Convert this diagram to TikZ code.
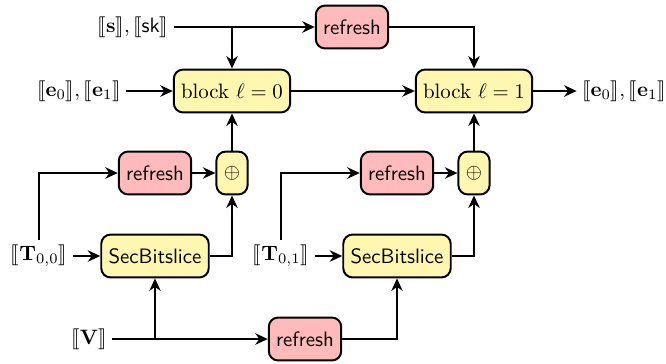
\documentclass[tikz,border=0pt]{standalone}
\usepackage{stmaryrd}
\usetikzlibrary{arrows.meta}
\definecolor{boxyellow}{RGB}{255,246,175}
\definecolor{boxpink}{RGB}{255,187,187}
\begin{document}
\begin{tikzpicture}[x=0.48pt,y=-0.48pt,
  every node/.style={inner sep=2.5pt},
  arr/.style={line width=0.95pt,-{Stealth[length=6pt,width=5.5pt]}},
  ybox/.style={draw,line width=0.95pt,rounded corners=4.5pt,fill=boxyellow,minimum height=20.6pt,inner xsep=3.5pt},
  pbox/.style={draw,line width=0.95pt,rounded corners=4.5pt,fill=boxpink,minimum height=20.6pt,inner xsep=3.5pt,font=\sffamily},
  xbox/.style={draw,line width=0.95pt,rounded corners=4.5pt,fill=boxyellow,minimum height=20.6pt,minimum width=15pt,inner sep=1pt}]
\useasboundingbox (0,0) rectangle (666,363);
% nodes
\node (ss) at (133,27) {$\llbracket\mathbf{s}\rrbracket,\llbracket\mathsf{sk}\rrbracket$};
\node[pbox] (rf0) at (352,27) {refresh};
\node[ybox] (b0) at (232,91) {block $\ell=0$};
\node[ybox] (b1) at (474,91) {block $\ell=1$};
\node (el) at (79,91) {$\llbracket\mathbf{e}_0\rrbracket,\llbracket\mathbf{e}_1\rrbracket$};
\node (er) at (624,91) {$\llbracket\mathbf{e}_0\rrbracket,\llbracket\mathbf{e}_1\rrbracket$};
\node[pbox] (r1) at (155,173) {refresh};
\node[xbox] (x0) at (232,173) {$\oplus$};
\node[pbox] (r2) at (397,173) {refresh};
\node[xbox] (x1) at (474,173) {$\oplus$};
\node (T00) at (39,256) {$\llbracket\mathbf{T}_{0,0}\rrbracket$};
\node[ybox,font=\sffamily] (sb0) at (155,256) {SecBitslice};
\node (T01) at (281,256) {$\llbracket\mathbf{T}_{0,1}\rrbracket$};
\node[ybox,font=\sffamily] (sb1) at (397,256) {SecBitslice};
\node (V) at (89,339) {$\llbracket\mathbf{V}\rrbracket$};
\node[pbox] (r3) at (305,339) {refresh};
% connectors
\draw[arr] (ss.east) -- (rf0.west);
\draw[arr] (ss.east -| b0.north) -- (b0.north);
\draw[arr] (rf0.east) -| (b1.north);
\draw[arr] (el.east) -- (b0.west);
\draw[arr] (b0.east) -- (b1.west);
\draw[arr] (b1.east) -- (er.west);
\draw[arr] (x0.north) -- (b0.south);
\draw[arr] (x1.north) -- (b1.south);
\draw[arr] (T00.north) |- (r1.west);
\draw[arr] (r1.east) -- (x0.west);
\draw[arr] (T00.east) -- (sb0.west);
\draw[arr] (sb0.east) -| (x0.south);
\draw[arr] (T01.north) |- (r2.west);
\draw[arr] (r2.east) -- (x1.west);
\draw[arr] (T01.east) -- (sb1.west);
\draw[arr] (sb1.east) -| (x1.south);
\draw[arr] (V.east) -- (r3.west);
\draw[arr] (V.east -| sb0.south) -- (sb0.south);
\draw[arr] (r3.east) -| (sb1.south);
\end{tikzpicture}
\end{document}
